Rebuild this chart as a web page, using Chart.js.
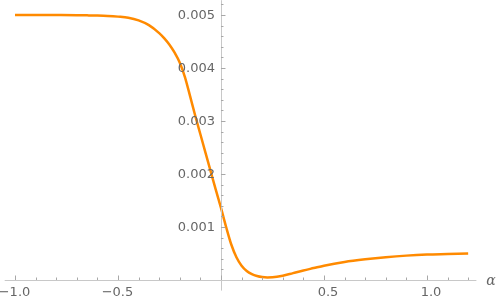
<!DOCTYPE html>
<html><head><meta charset="utf-8">
<script src="https://cdn.jsdelivr.net/npm/chart.js@4/dist/chart.umd.min.js"></script>
<style>html,body{margin:0;padding:0;background:#fff}#wrap{width:498px;height:301px;position:relative}</style>
</head><body><div id="wrap"><canvas id="c" width="498" height="301"></canvas></div>
<script>
const alphaValues = [-1.0,-0.9,-0.8,-0.7,-0.65,-0.6,-0.55,-0.5,-0.45,-0.4,-0.35,-0.3,-0.275,-0.25,-0.225,-0.2,-0.175,-0.15,-0.125,-0.1,-0.075,-0.05,-0.025,0,0.025,0.05,0.075,0.1,0.125,0.15,0.175,0.2,0.225,0.25,0.3,0.35,0.4,0.45,0.5,0.6,0.7,0.8,0.9,1.0,1.1,1.2];
const curveValues = [0.005,0.005,0.004999,0.004997,0.004994,0.00499,0.004983,0.00497,0.00495,0.00490,0.00481,0.00466,0.00456,0.00444,0.00429,0.00410,0.00383,0.00347,0.00310,0.00275,0.00240,0.00205,0.00170,0.00136,0.00100,0.00067,0.00043,0.00027,0.00017,0.00011,0.000075,0.000055,0.000048,0.00005,0.00008,0.00013,0.00018,0.000225,0.00027,0.00034,0.00039,0.00043,0.00046,0.00048,0.00049,0.00050];
const xTickValues = [-1.0,-0.5,0.5,1.0];
const xTickLabels = ["\u22121.0","\u22120.5","0.5","1.0"];
const yTickValues = [0.001,0.002,0.003,0.004,0.005];
const yTickLabels = ["0.001","0.002","0.003","0.004","0.005"];
const xAxisLabel = "\u03b1";

const axesPlugin = {
  id: 'mmaAxes',
  afterDatasetsDraw(chart) {
    const ctx = chart.ctx, xs = chart.scales.x, ys = chart.scales.y;
    const x0 = xs.getPixelForValue(0), y0 = ys.getPixelForValue(0);
    ctx.save();
    ctx.strokeStyle = '#c8c8c8'; ctx.lineWidth = 1;
    ctx.beginPath();
    ctx.moveTo(xs.left, Math.round(y0)+0.5); ctx.lineTo(xs.right, Math.round(y0)+0.5);
    ctx.moveTo(Math.round(x0)+0.5, ys.top); ctx.lineTo(Math.round(x0)+0.5, ys.bottom);
    ctx.stroke();
    ctx.strokeStyle = '#a8a8a8';
    ctx.beginPath();
    for (let i = -10; i <= 12; i++) {
      const v = i/10, px = Math.round(xs.getPixelForValue(v))+0.5;
      const len = (i % 5 === 0) ? 4.5 : 2.5;
      ctx.moveTo(px, y0); ctx.lineTo(px, y0 - len);
    }
    for (let i = 1; i <= 26; i++) {
      const v = i*0.0002, py = Math.round(ys.getPixelForValue(v))+0.5;
      const len = (i % 5 === 0) ? 4.5 : 2.5;
      ctx.moveTo(x0, py); ctx.lineTo(x0 + len, py);
    }
    ctx.stroke();
    ctx.fillStyle = '#666666';
    ctx.font = '13px "DejaVu Sans"';
    ctx.textBaseline = 'middle';
    ctx.textAlign = 'center';
    xTickValues.forEach((v,i) => {
      const px = xs.getPixelForValue(v) + (v > 0 ? 4 : -0.5);
      ctx.fillText(xTickLabels[i], px, y0 + 12.5);
    });
    ctx.textAlign = 'right';
    yTickValues.forEach((v,i) => {
      ctx.fillText(yTickLabels[i], x0 - 6, ys.getPixelForValue(v) + 1);
    });
    ctx.font = 'italic 14px "DejaVu Serif"';
    ctx.textAlign = 'center';
    ctx.fillText(xAxisLabel, 491, y0 + 1);
    ctx.restore();
  }
};

new Chart(document.getElementById('c'), {
  type: 'line',
  data: { datasets: [{ data: alphaValues.map((a,i)=>({x:a,y:curveValues[i]})), borderColor:'#ff8a00', borderWidth:2.5, pointRadius:0, cubicInterpolationMode:'monotone', fill:false }] },
  options: {
    responsive:false, animation:false, devicePixelRatio:1,
    layout:{ padding:{ left:4.7, right:21.6, top:0.2, bottom:10.4 } },
    plugins:{ legend:{display:false}, tooltip:{enabled:false} },
    scales:{
      x:{ type:'linear', min:-1.05, max:1.24, display:false },
      y:{ type:'linear', min:-0.0002, max:0.00528, display:false }
    }
  },
  plugins:[axesPlugin]
});
</script></body></html>
